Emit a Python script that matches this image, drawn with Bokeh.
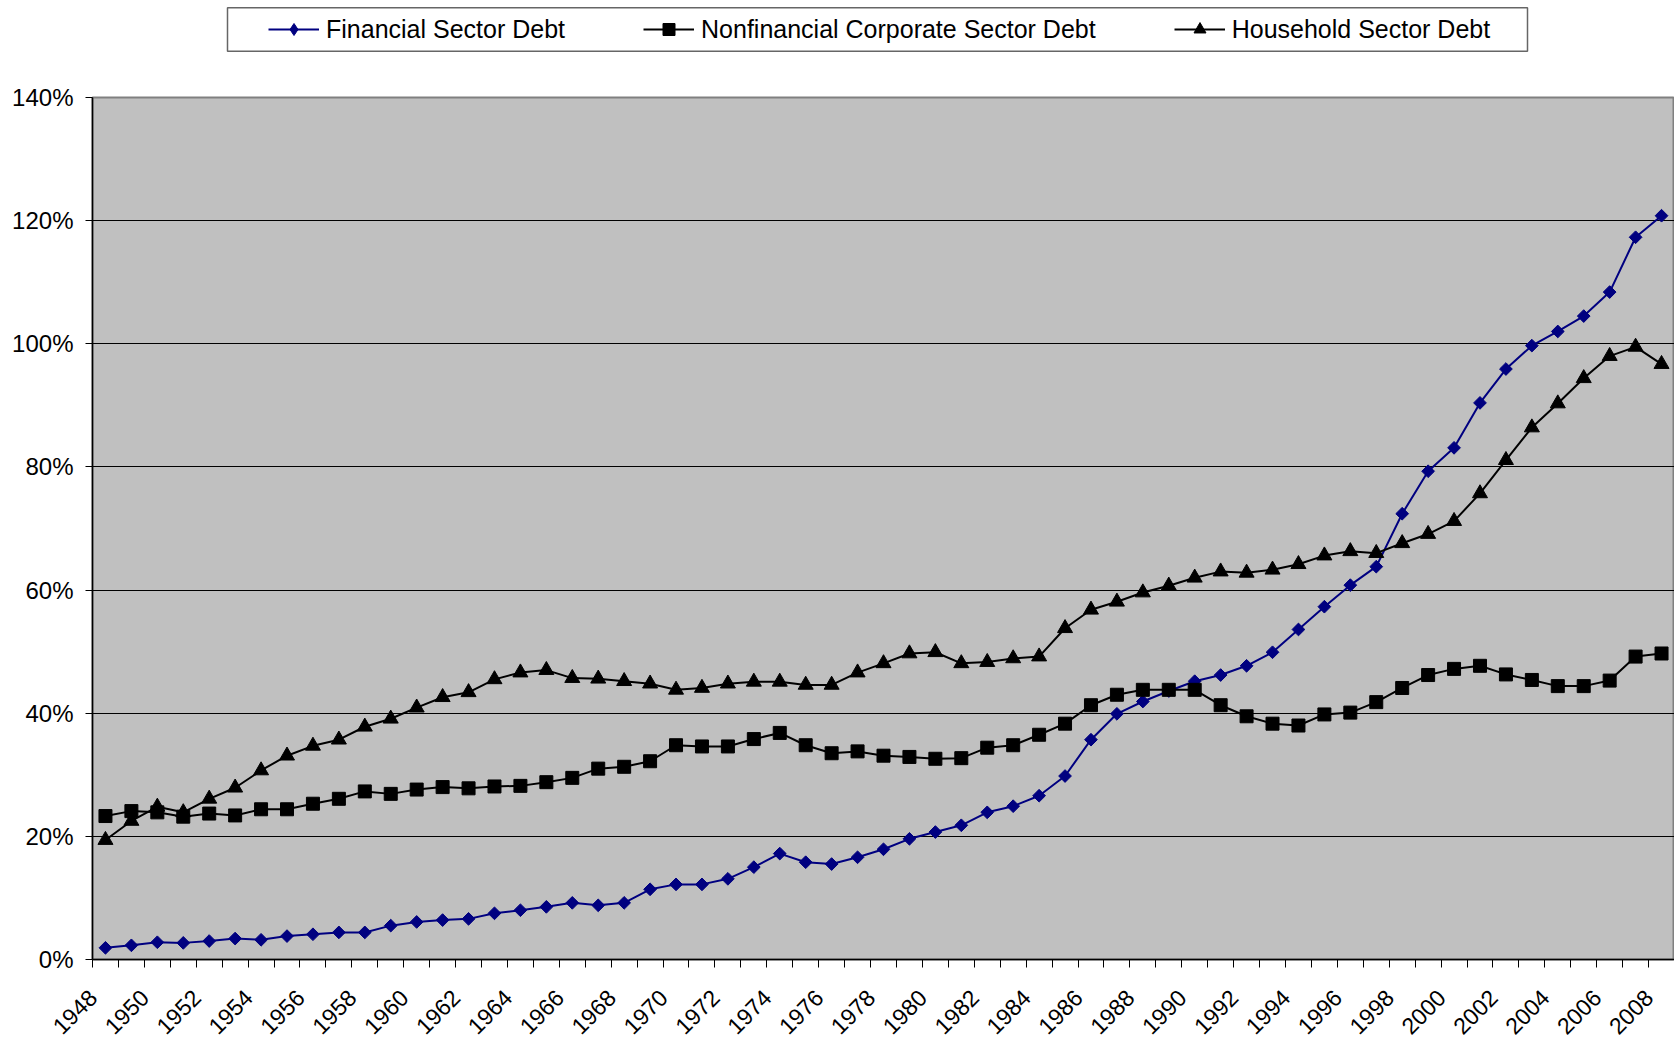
import math
from bokeh.plotting import figure
from bokeh.models import (Range1d, FixedTicker, PrintfTickFormatter, Legend, LegendItem,
                          ColumnDataSource)
from bokeh.layouts import column
from bokeh.embed import file_html
from bokeh.resources import INLINE

FONT = "Liberation Sans"

# ---------------- data ----------------
years = list(range(1948, 2009))

financial = [1.9, 2.3, 2.8, 2.7, 3.0, 3.4, 3.2, 3.8, 4.1, 4.4,
             4.4, 5.5, 6.1, 6.4, 6.6, 7.5, 8.0, 8.55, 9.2, 8.8,
             9.2, 11.4, 12.2, 12.2, 13.1, 15.0, 17.2, 15.8, 15.5, 16.6,
             17.9, 19.6, 20.7, 21.8, 23.9, 24.9, 26.6, 29.8, 35.7, 39.9,
             41.9, 43.6, 45.2, 46.2, 47.7, 49.9, 53.6, 57.3, 60.8, 63.8,
             72.4, 79.3, 83.1, 90.4, 95.9, 99.7, 102.0, 104.5, 108.4, 117.3,
             120.8]

nonfinancial = [23.3, 24.1, 23.9, 23.2, 23.7, 23.4, 24.4, 24.4, 25.3, 26.1,
                27.3, 26.9, 27.6, 28.0, 27.8, 28.1, 28.2, 28.8, 29.5, 31.0,
                31.3, 32.2, 34.8, 34.6, 34.6, 35.8, 36.8, 34.8, 33.5, 33.8,
                33.1, 32.9, 32.6, 32.7, 34.4, 34.8, 36.5, 38.3, 41.3, 43.0,
                43.8, 43.8, 43.8, 41.3, 39.5, 38.3, 38.0, 39.8, 40.1, 41.8,
                44.1, 46.2, 47.2, 47.7, 46.3, 45.4, 44.4, 44.4, 45.3, 49.2,
                49.7]

household = [19.4, 22.5, 24.8, 23.9, 26.1, 27.9, 30.7, 33.1, 34.7, 35.7,
             37.8, 39.1, 40.9, 42.6, 43.4, 45.5, 46.6, 47.0, 45.7, 45.6,
             45.2, 44.8, 43.8, 44.1, 44.8, 45.1, 45.1, 44.6, 44.6, 46.6,
             48.1, 49.7, 49.9, 48.1, 48.3, 48.9, 49.2, 53.8, 56.8, 58.1,
             59.6, 60.7, 62.0, 63.0, 62.8, 63.3, 64.2, 65.6, 66.3, 66.0,
             67.6, 69.1, 71.2, 75.7, 81.1, 86.4, 90.3, 94.4, 98.0, 99.5,
             96.7]

series_names = ["Financial Sector Debt",
                "Nonfinancial Corporate Sector Debt",
                "Household Sector Debt"]
y_ticks = [0, 20, 40, 60, 80, 100, 120, 140]
x_tick_years = years[::2]
x_tick_labels = [str(y) for y in x_tick_years]

NAVY = "#000080"
W = 1674          # canvas width
LEFT = 92         # frame left edge
LH = 56           # legend strip height
MH = 1044 - LH    # main figure height
LABEL_SHIFT = 0.49  # rotated labels end just left of their category centre

src = ColumnDataSource(dict(year=years, fin=financial, nonfin=nonfinancial, hh=household))

# ---------------- main chart ----------------
p = figure(width=W, height=MH,
           x_range=Range1d(years[0] - 0.5, years[-1] + 0.5),
           y_range=Range1d(y_ticks[0], y_ticks[-1]),
           output_backend="svg", toolbar_location=None,
           min_border_left=LEFT, min_border_right=0,
           min_border_top=97 - LH, min_border_bottom=84)
p.background_fill_color = "#C0C0C0"
p.border_fill_color = "white"
p.outline_line_color = "#808080"
p.outline_line_width = 2

p.xgrid.grid_line_color = None
p.ygrid.ticker = FixedTicker(ticks=y_ticks)
p.ygrid.grid_line_color = "black"
p.ygrid.grid_line_width = 1

# y axis
p.yaxis.ticker = FixedTicker(ticks=y_ticks)
p.yaxis.formatter = PrintfTickFormatter(format="%d%%")
p.yaxis.axis_line_color = "black"
p.yaxis.axis_line_width = 1.5
p.yaxis.major_tick_out = 7
p.yaxis.major_tick_in = 0
p.yaxis.major_tick_line_color = "black"
p.yaxis.minor_tick_line_color = None
p.yaxis.major_label_standoff = 12
p.yaxis.major_label_text_font = FONT
p.yaxis.major_label_text_font_size = "24px"
p.yaxis.major_label_text_color = "black"

# x axis: tick marks between categories, labels every second year
label_pos = [y - LABEL_SHIFT for y in x_tick_years]
p.xaxis.ticker = FixedTicker(ticks=label_pos,
                             minor_ticks=[y - 0.5 for y in years] + [years[-1] + 0.5])
p.xaxis.major_label_overrides = {pos: l for pos, l in zip(label_pos, x_tick_labels)}
p.xaxis.axis_line_color = "black"
p.xaxis.axis_line_width = 1.5
p.xaxis.major_tick_out = 0
p.xaxis.major_tick_in = 0
p.xaxis.major_tick_line_color = None
p.xaxis.minor_tick_out = 8
p.xaxis.minor_tick_in = 0
p.xaxis.minor_tick_line_color = "black"
p.xaxis.minor_tick_line_width = 1
p.xaxis.major_label_orientation = math.pi / 4
p.xaxis.major_label_standoff = 26
p.xaxis.major_label_text_font = FONT
p.xaxis.major_label_text_font_size = "23px"
p.xaxis.major_label_text_color = "black"

p.line("year", "fin", source=src, line_color=NAVY, line_width=2)
p.scatter("year", "fin", source=src, marker="square", angle=math.pi / 4, size=9,
          fill_color=NAVY, line_color=NAVY)
p.line("year", "nonfin", source=src, line_color="black", line_width=2)
p.scatter("year", "nonfin", source=src, marker="square", size=13,
          fill_color="black", line_color="black")
p.line("year", "hh", source=src, line_color="black", line_width=2)
p.scatter("year", "hh", source=src, marker="triangle", size=15,
          fill_color="black", line_color="black")

# ---------------- legend strip ----------------
leg = figure(width=W, height=LH, x_range=Range1d(LEFT, W), y_range=Range1d(0, LH),
             output_backend="svg", toolbar_location=None,
             x_axis_type=None, y_axis_type=None,
             min_border_left=LEFT, min_border_right=0, min_border_top=0, min_border_bottom=0)
leg.grid.visible = False
leg.outline_line_color = None
leg.background_fill_color = "white"
leg.border_fill_color = "white"
leg.quad(left=227, right=1527, top=LH - 7.3, bottom=LH - 50.7, fill_color="white",
         line_color="#666666", line_width=1.5)

styles = [dict(color=NAVY, marker="diamond"),
          dict(color="black", marker="square"),
          dict(color="black", marker="triangle")]
items = []
for name, st in zip(series_names, styles):
    lr = leg.line([-200, -190], [-200, -200], line_color=st["color"], line_width=2)
    sr = leg.scatter([-200], [-200], marker=st["marker"], size=12,
                     fill_color=st["color"], line_color=st["color"])
    items.append(LegendItem(label=name, renderers=[lr, sr]))

legend = Legend(items=items, location=(268 - LEFT, LH - 44), orientation="horizontal",
                padding=0, margin=0, spacing=78, glyph_width=51, glyph_height=30,
                label_height=30, label_standoff=7,
                label_text_font=FONT, label_text_font_size="25px",
                label_text_color="black",
                border_line_color=None, background_fill_alpha=0)
leg.add_layout(legend)

layout = column(leg, p, spacing=0)
open("out.html", "w").write(file_html(layout, INLINE))
